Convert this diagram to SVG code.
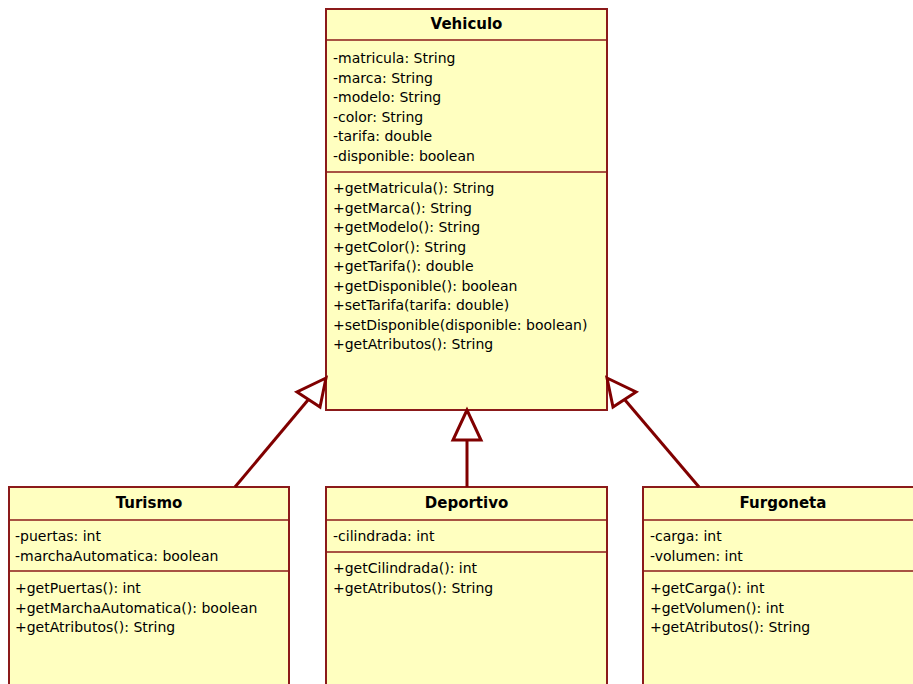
<svg xmlns="http://www.w3.org/2000/svg" width="913" height="684" viewBox="0 0 913 684">
<style>
.box{fill:#ffffc0;stroke:#8b1a1a;stroke-width:2}
.sep{stroke:#8b1a1a;stroke-width:1.5}
.t{font-family:"DejaVu Sans",Verdana,sans-serif;font-size:14px;fill:#000}
.h{font-family:"DejaVu Sans",Verdana,sans-serif;font-size:15px;font-weight:bold;fill:#000;text-anchor:middle}
.c{stroke:#800000;stroke-width:3;fill:none}
.a{stroke:#800000;stroke-width:3;fill:#fff;stroke-linejoin:miter}
</style>
<rect width="913" height="684" fill="#fff"/>
<g id="Vehiculo">
<rect class="box" x="326" y="9" width="281" height="401"/>
<line class="sep" x1="326" y1="40" x2="607" y2="40"/>
<line class="sep" x1="326" y1="172" x2="607" y2="172"/>
<text class="h" x="466.5" y="29">Vehiculo</text>
<text class="t" x="333" y="63">-matricula: String</text>
<text class="t" x="333" y="82.5">-marca: String</text>
<text class="t" x="333" y="102">-modelo: String</text>
<text class="t" x="333" y="121.5">-color: String</text>
<text class="t" x="333" y="141">-tarifa: double</text>
<text class="t" x="333" y="160.5">-disponible: boolean</text>
<text class="t" x="333" y="193">+getMatricula(): String</text>
<text class="t" x="333" y="212.5">+getMarca(): String</text>
<text class="t" x="333" y="232">+getModelo(): String</text>
<text class="t" x="333" y="251.5">+getColor(): String</text>
<text class="t" x="333" y="271">+getTarifa(): double</text>
<text class="t" x="333" y="290.5">+getDisponible(): boolean</text>
<text class="t" x="333" y="310">+setTarifa(tarifa: double)</text>
<text class="t" x="333" y="329.5">+setDisponible(disponible: boolean)</text>
<text class="t" x="333" y="349">+getAtributos(): String</text>
</g>
<g id="Turismo">
<rect class="box" x="9" y="487" width="280" height="210"/>
<line class="sep" x1="9" y1="520" x2="289" y2="520"/>
<line class="sep" x1="9" y1="571" x2="289" y2="571"/>
<text class="h" x="149" y="508">Turismo</text>
<text class="t" x="15" y="541">-puertas: int</text>
<text class="t" x="15" y="560.5">-marchaAutomatica: boolean</text>
<text class="t" x="15" y="593">+getPuertas(): int</text>
<text class="t" x="15" y="612.5">+getMarchaAutomatica(): boolean</text>
<text class="t" x="15" y="632">+getAtributos(): String</text>
</g>
<g id="Deportivo">
<rect class="box" x="326" y="487" width="281" height="210"/>
<line class="sep" x1="326" y1="520" x2="607" y2="520"/>
<line class="sep" x1="326" y1="552" x2="607" y2="552"/>
<text class="h" x="466.5" y="508">Deportivo</text>
<text class="t" x="333" y="541">-cilindrada: int</text>
<text class="t" x="333" y="573">+getCilindrada(): int</text>
<text class="t" x="333" y="592.5">+getAtributos(): String</text>
</g>
<g id="Furgoneta">
<rect class="box" x="643" y="487" width="290" height="210"/>
<line class="sep" x1="643" y1="520" x2="913" y2="520"/>
<line class="sep" x1="643" y1="571" x2="913" y2="571"/>
<text class="h" x="783" y="508">Furgoneta</text>
<text class="t" x="650" y="541">-carga: int</text>
<text class="t" x="650" y="560.5">-volumen: int</text>
<text class="t" x="650" y="593">+getCarga(): int</text>
<text class="t" x="650" y="612.5">+getVolumen(): int</text>
<text class="t" x="650" y="632">+getAtributos(): String</text>
</g>
<g id="connectors">
<line class="c" x1="235" y1="487" x2="308" y2="400"/>
<polygon class="a" points="326,378 297,392 320,407"/>
<line class="c" x1="467" y1="487" x2="467" y2="440"/>
<polygon class="a" points="467,410 453,440 481,440"/>
<line class="c" x1="699" y1="487" x2="625" y2="400"/>
<polygon class="a" points="607,378 636,392 613,407"/>
</g>
</svg>
